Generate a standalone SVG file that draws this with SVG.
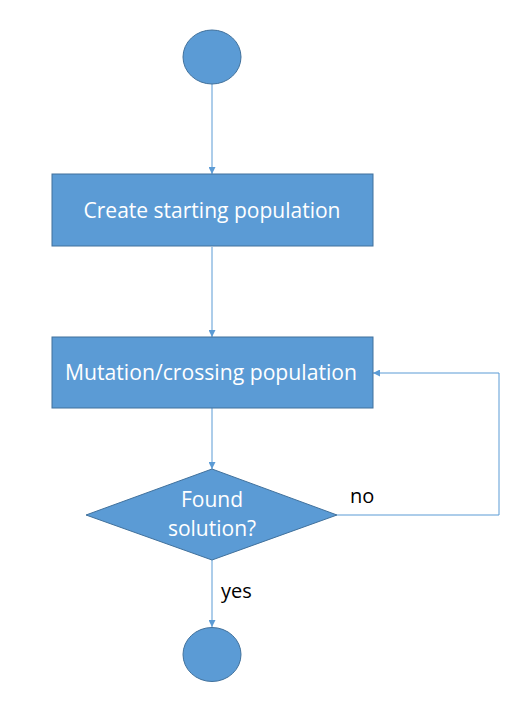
<svg xmlns="http://www.w3.org/2000/svg" width="530" height="720" viewBox="0 0 530 720">
<style>
.shape{fill:#5B9BD5;stroke:#41719C;stroke-width:1}
.lbl{font-family:"Open Sans","Lato","Liberation Sans",sans-serif;font-size:21px;fill:#FFFFFF;text-anchor:middle}
.edge{fill:none;stroke:#5B9BD5;stroke-width:1}
.elbl{font-family:"Open Sans","Lato","Liberation Sans",sans-serif;font-size:20px;fill:#000000}
</style>
<defs>
<marker id="arr" viewBox="0 0 10 10" refX="10" refY="5" markerWidth="7" markerHeight="7" markerUnits="userSpaceOnUse" orient="auto">
<path d="M0,0 L10,5 L0,10 z" fill="#5B9BD5"/>
</marker>
</defs>
<rect width="530" height="720" fill="#FFFFFF"/>
<g id="connectors">
<line class="edge" x1="212" y1="84" x2="212" y2="174" marker-end="url(#arr)"/>
<line class="edge" x1="212" y1="247" x2="212" y2="337" marker-end="url(#arr)"/>
<line class="edge" x1="212" y1="408" x2="212" y2="469" marker-end="url(#arr)"/>
<line class="edge" x1="212" y1="560" x2="212" y2="627" marker-end="url(#arr)"/>
<polyline class="edge" points="337,515 499,515 499,373 373,373" marker-end="url(#arr)"/>
<text class="elbl" x="350" y="503">no</text>
<text class="elbl" x="221" y="598">yes</text>
</g>
<g id="start">
<ellipse class="shape" cx="212" cy="57" rx="29" ry="27"/>
</g>
<g id="create">
<rect class="shape" x="52" y="174" width="321" height="72"/>
<text class="lbl" x="212" y="218" textLength="257" lengthAdjust="spacingAndGlyphs">Create starting population</text>
</g>
<g id="mutation">
<rect class="shape" x="52" y="337" width="321" height="71"/>
<text class="lbl" x="211" y="380" textLength="292" lengthAdjust="spacingAndGlyphs">Mutation/crossing population</text>
</g>
<g id="decision">
<polygon class="shape" points="212,469 337,515 212,560 86,515"/>
<text class="lbl" x="212" y="507">Found</text>
<text class="lbl" x="212" y="536">solution?</text>
</g>
<g id="end">
<ellipse class="shape" cx="212" cy="654.5" rx="29" ry="27"/>
</g>
</svg>
